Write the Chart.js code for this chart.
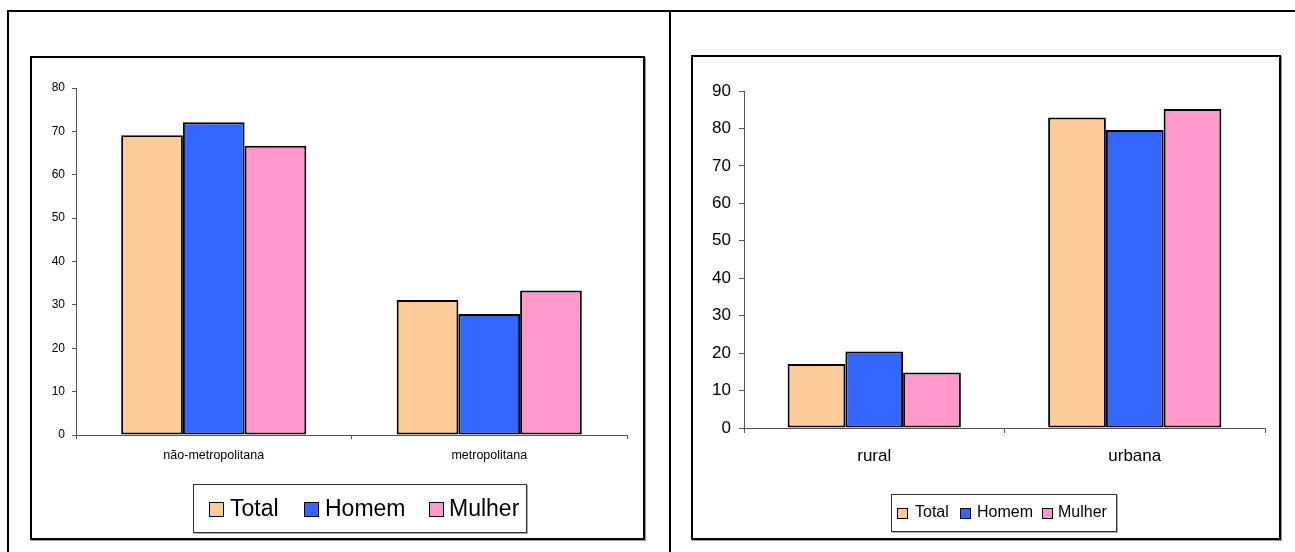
<!DOCTYPE html>
<html lang="pt">
<head>
<meta charset="utf-8">
<title>Distribuição por área – Total, Homem, Mulher</title>
<script src="https://cdn.jsdelivr.net/npm/chart.js@4.4.1/dist/chart.umd.min.js"></script>
<style>
  html, body { margin: 0; padding: 0; background: #fff; }
  body { width: 1295px; height: 552px; position: relative; overflow: hidden;
         font-family: "Liberation Sans", Arial, sans-serif; }
  .frame-top { position: absolute; left: 7px; top: 10px; width: 1288px; height: 2px; background: #000; }
  .frame-left { position: absolute; left: 7px; top: 10px; width: 2px; height: 542px; background: #000; }
  .frame-mid { position: absolute; left: 669px; top: 10px; width: 2px; height: 542px; background: #000; }
  .box { position: absolute; border: 2px solid #000; box-shadow: 1px 1px 0 #999; box-sizing: border-box; }
  canvas.chart { position: absolute; top: 0; }
  .legend { position: absolute; border: 1px solid #333; box-shadow: 1px 1px 0 #aaa;
            box-sizing: border-box; background: #fff; }
  .legend .sw { position: absolute; box-sizing: border-box; border: 1.5px solid #000; }
  .legend .lb { position: absolute; color: #000; white-space: nowrap; line-height: 1; }
</style>
</head>
<body>
<div class="frame-top"></div>
<div class="frame-left"></div>
<div class="frame-mid"></div>

<div class="box" style="left:30px; top:56px; width:615px; height:484px;"></div>
<div class="box" style="left:691px; top:55px; width:590px; height:485px;"></div>

<canvas id="chartArea" class="chart" style="left:0px;" width="670" height="552"></canvas>
<canvas id="chartZona" class="chart" style="left:670px;" width="625" height="552"></canvas>

<div id="legendArea" class="legend" style="left:193px; top:484px; width:334px; height:49px;"></div>
<div id="legendZona" class="legend" style="left:891px; top:494px; width:226px; height:38px;"></div>

<script>
// Series names and fill colours shared by both panels
const seriesNames = ["Total", "Homem", "Mulher"];
const seriesColors = ["#FFCC99", "#3366FF", "#FF99CC"];

// Panel 1: metropolitan vs non-metropolitan (%)
const areaCategories = ["não-metropolitana", "metropolitana"];
const areaTotal  = [69.1, 31.1];
const areaHomem  = [72.1, 27.9];
const areaMulher = [66.7, 33.3];
const areaTicks  = [0, 10, 20, 30, 40, 50, 60, 70, 80];

// Panel 2: rural vs urban (%)
const zonaCategories = ["rural", "urbana"];
const zonaTotal  = [17.1, 82.9];
const zonaHomem  = [20.4, 79.6];
const zonaMulher = [14.8, 85.2];
const zonaTicks  = [0, 10, 20, 30, 40, 50, 60, 70, 80, 90];

const FONT = '"Liberation Sans", Arial, sans-serif';

function makeDatasets(values, borderWidth, catPct) {
  return values.map((v, i) => ({
    label: seriesNames[i],
    data: v,
    backgroundColor: seriesColors[i],
    borderColor: "#000",
    borderWidth: borderWidth,
    borderSkipped: false,
    barPercentage: 1.0,
    categoryPercentage: catPct
  }));
}

function buildChart(canvasId, cfg) {
  return new Chart(document.getElementById(canvasId), {
    type: "bar",
    data: {
      labels: cfg.categories,
      datasets: makeDatasets(cfg.series, cfg.barBorder, cfg.catPct)
    },
    options: {
      responsive: false,
      animation: false,
      events: [],
      layout: { padding: cfg.padding },
      plugins: { legend: { display: false }, tooltip: { enabled: false } },
      scales: {
        x: {
          grid: { display: true, drawOnChartArea: false, drawTicks: true, tickLength: cfg.tickLen, color: "#555", lineWidth: 1, offset: true },
          border: { display: true, color: "#555", width: 1 },
          ticks: { color: "#000", font: { family: FONT, size: cfg.xFont }, padding: cfg.xPad, maxRotation: 0 },
          afterFit: s => { s.height = 40; }
        },
        y: {
          min: 0,
          max: cfg.ticks[cfg.ticks.length - 1],
          afterBuildTicks: s => { s.ticks = cfg.ticks.map(v => ({ value: v })); },
          grid: { display: true, drawOnChartArea: false, drawTicks: true, tickLength: cfg.tickLen, color: "#555", lineWidth: 1 },
          border: { display: true, color: "#555", width: 1 },
          ticks: { color: "#000", font: { family: FONT, size: cfg.yFont }, padding: cfg.yPad },
          afterFit: s => { s.width = 40; }
        }
      }
    }
  });
}

buildChart("chartArea", {
  categories: areaCategories,
  series: [areaTotal, areaHomem, areaMulher],
  ticks: areaTicks,
  catPct: 0.672,
  barBorder: 2,
  tickLen: 4,
  xFont: 12.5, yFont: 12,
  xPad: 9, yPad: 7,
  padding: { left: 36, top: 88, right: 43, bottom: 77 }
});

buildChart("chartZona", {
  categories: zonaCategories,
  series: [zonaTotal, zonaHomem, zonaMulher],
  ticks: zonaTicks,
  catPct: 0.665,
  barBorder: 2,
  tickLen: 5,
  xFont: 17, yFont: 17,
  xPad: 13, yPad: 8,
  padding: { left: 34, top: 91, right: 30, bottom: 84 }
});

// Framed legends below each panel
function buildLegend(id, layout) {
  const host = document.getElementById(id);
  seriesNames.forEach((name, i) => {
    const sw = document.createElement("div");
    sw.className = "sw";
    sw.style.left = layout.sw[i] + "px";
    sw.style.top = layout.swTop + "px";
    sw.style.width = layout.swSize + "px";
    sw.style.height = layout.swSize + "px";
    sw.style.background = seriesColors[i];
    host.appendChild(sw);
    const lb = document.createElement("div");
    lb.className = "lb";
    lb.textContent = name;
    lb.style.left = layout.lb[i] + "px";
    lb.style.top = layout.lbTop + "px";
    lb.style.fontSize = layout.font + "px";
    host.appendChild(lb);
  });
}

buildLegend("legendArea", { sw: [15, 110, 235], lb: [36, 131, 255], swTop: 17, swSize: 15, lbTop: 12, font: 23 });
buildLegend("legendZona", { sw: [5, 68, 150], lb: [23, 85, 166], swTop: 13, swSize: 11, lbTop: 9, font: 16 });
</script>
</body>
</html>
